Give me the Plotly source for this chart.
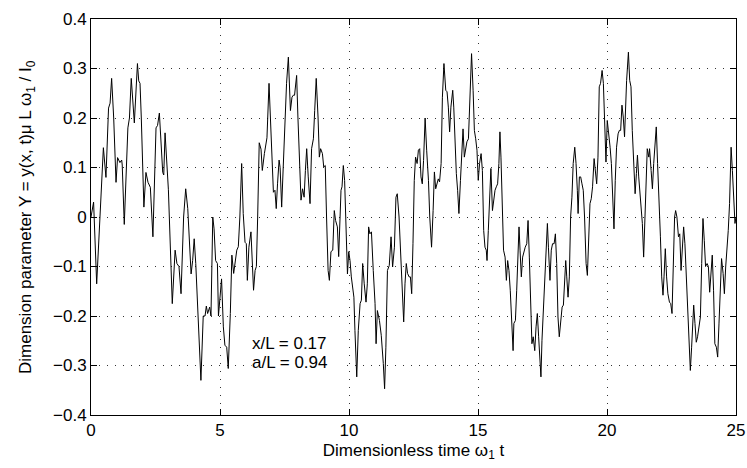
import plotly.graph_objects as go

# Dimensionless time samples and the response at x/L = 0.17, a/L = 0.94
t = [0.00, 0.10, 0.22, 0.35, 0.48, 0.58, 0.68, 0.74, 0.80, 0.88, 0.97, 1.03, 1.12, 1.19, 1.21, 1.29,
     1.43, 1.49, 1.56, 1.68, 1.80, 1.85, 1.90, 1.95, 2.05, 2.13, 2.21, 2.30, 2.40, 2.52, 2.58, 2.65,
     2.71, 2.78, 2.82, 2.87,
     3.00, 3.15, 3.26, 3.33, 3.41, 3.49, 3.59, 3.67, 3.75, 3.88, 3.94, 4.00, 4.06, 4.12, 4.20, 4.26,
     4.35, 4.42, 4.47, 4.52, 4.60, 4.65, 4.72, 4.77, 4.83, 4.90, 4.94, 5.00, 5.06, 5.13, 5.19, 5.26,
     5.32, 5.40, 5.46, 5.53, 5.58, 5.65, 5.71, 5.77, 5.84, 5.90, 5.97, 6.02, 6.06, 6.12, 6.20, 6.25,
     6.30, 6.36, 6.41, 6.46, 6.52, 6.59, 6.64, 6.72, 6.78, 6.82, 6.90, 6.98, 7.03, 7.07, 7.13, 7.18,
     7.23, 7.29,
     7.33, 7.39, 7.45, 7.52, 7.58, 7.65, 7.73, 7.79, 7.84, 7.89, 7.97, 8.02, 8.08, 8.14, 8.20, 8.26,
     8.31, 8.36, 8.42, 8.49, 8.55, 8.62, 8.67, 8.73, 8.80, 8.85, 8.90, 8.97, 9.02, 9.08, 9.13, 9.19,
     9.24, 9.30, 9.37, 9.43, 9.48, 9.55, 9.60, 9.65, 9.69, 9.73, 9.78, 9.83, 9.88, 9.94, 9.99, 10.04,
     10.09, 10.14, 10.19, 10.23, 10.30, 10.36, 10.43, 10.48, 10.53, 10.59, 10.66, 10.71, 10.76, 10.81,
     10.87, 10.94, 11.01, 11.05, 11.10, 11.18, 11.25, 11.33, 11.38, 11.43, 11.49, 11.56, 11.63, 11.69,
     11.76, 11.82, 11.87,
     11.94, 12.02, 12.07, 12.12, 12.17, 12.22, 12.27, 12.33, 12.38, 12.43, 12.48, 12.53, 12.58, 12.64,
     12.69, 12.74, 12.79, 12.84, 12.89, 12.95, 13.01, 13.08, 13.13, 13.18, 13.20, 13.26, 13.31, 13.36,
     13.41, 13.46, 13.51, 13.57, 13.62, 13.68, 13.75, 13.80, 13.85, 13.90, 13.95, 14.02, 14.06, 14.11,
     14.16, 14.21, 14.26, 14.32, 14.37, 14.42, 14.47, 14.52, 14.57, 14.63, 14.68, 14.75, 14.81, 14.86,
     14.91, 14.96, 15.01, 15.06, 15.12, 15.17, 15.22, 15.27, 15.32, 15.35, 15.40, 15.45, 15.50, 15.56,
     15.61, 15.66, 15.71, 15.76, 15.81, 15.85, 15.89, 15.94, 15.99, 16.05, 16.10, 16.15, 16.20, 16.25,
     16.30, 16.36,
     16.39, 16.45, 16.50, 16.55, 16.59, 16.63, 16.68, 16.73, 16.78, 16.83, 16.89, 16.94, 16.99, 17.04,
     17.09, 17.14, 17.20, 17.25, 17.30, 17.35, 17.40, 17.44, 17.48, 17.53, 17.58, 17.64, 17.69, 17.73,
     17.79, 17.84, 17.89, 17.95, 18.00, 18.05, 18.10, 18.15, 18.20, 18.26, 18.31, 18.36, 18.40, 18.44,
     18.49, 18.54, 18.59, 18.64, 18.69, 18.75, 18.80, 18.85, 18.88, 18.93, 18.98, 19.03, 19.08, 19.13,
     19.19, 19.24, 19.29, 19.34, 19.39, 19.44, 19.50, 19.55, 19.60, 19.65, 19.70, 19.75, 19.81, 19.86,
     19.91, 19.96, 20.01, 20.06, 20.12, 20.17, 20.22, 20.27, 20.32, 20.37, 20.43, 20.48, 20.53, 20.58,
     20.63, 20.68,
     20.76, 20.83, 20.88, 20.93, 20.98, 21.03, 21.09, 21.14, 21.18, 21.23, 21.28, 21.33, 21.37, 21.42,
     21.47, 21.52, 21.56, 21.62, 21.65, 21.71, 21.76, 21.81, 21.86, 21.91, 21.96, 22.02, 22.07, 22.12,
     22.17, 22.21, 22.26, 22.31, 22.36, 22.42, 22.47, 22.52, 22.57, 22.62, 22.66, 22.71, 22.77, 22.82,
     22.87, 22.92, 22.97, 23.02, 23.08, 23.13, 23.18, 23.23, 23.28, 23.33, 23.36, 23.41, 23.46, 23.51,
     23.57, 23.62, 23.67, 23.72, 23.77, 23.82, 23.88, 23.93, 23.98, 24.03, 24.08, 24.13, 24.18, 24.24,
     24.29, 24.34, 24.39, 24.44, 24.50, 24.55, 24.60, 24.65, 24.70, 24.75, 24.81, 24.86, 24.91, 24.96,
     25.00]

Y = [0.000, 0.030, -0.135, 0.000, 0.140, 0.080, 0.220, 0.230, 0.280, 0.200, 0.070, 0.120, 0.110, 0.115, 0.105, -0.015,
     0.180, 0.200, 0.280, 0.190, 0.310, 0.275, 0.270, 0.200, 0.020, 0.090, 0.070, 0.060, -0.040, 0.180, 0.185, 0.210,
     0.150, 0.090, 0.085, 0.170,
     0.055, -0.175, -0.067, -0.094, -0.100, -0.155, 0.000, 0.057, 0.017, -0.115, -0.088, -0.044, -0.094, -0.168, -0.240, -0.330,
     -0.200, -0.200, -0.180, -0.195, -0.182, -0.200, 0.000, -0.024, -0.088, -0.094, -0.200, -0.165, -0.125, -0.222, -0.259, -0.263,
     -0.306, -0.195, -0.077, -0.114, -0.094, -0.067, -0.060, 0.000, 0.108, 0.007, -0.051, -0.054, -0.128, -0.061, -0.030, -0.094,
     -0.148, -0.108, -0.100, 0.000, 0.150, 0.137, 0.094, 0.128, 0.155, 0.160, 0.270, 0.162, 0.108, 0.050, 0.054, 0.017,
     0.067, 0.115,
     0.100, 0.020, 0.100, 0.210, 0.270, 0.323, 0.215, 0.242, 0.246, 0.246, 0.286, 0.202, 0.108, 0.034, 0.057, 0.040,
     0.094, 0.138, 0.081, 0.027, 0.138, 0.158, 0.215, 0.280, 0.202, 0.121, 0.138, 0.128, 0.101, 0.104, 0.000, -0.108,
     -0.128, -0.070, -0.067, 0.013, -0.007, -0.020, -0.080, -0.013, 0.054, 0.061, 0.104, 0.074, -0.013, -0.115, -0.070, -0.088,
     -0.121, -0.141, -0.162, -0.229, -0.323, -0.229, -0.175, -0.168, -0.094, -0.135, -0.172, -0.135, -0.020, -0.034,
     -0.030, -0.108, -0.175, -0.256, -0.189, -0.209, -0.239, -0.296, -0.347, -0.263, -0.108, -0.098, -0.040, -0.101,
     -0.061, 0.040, 0.047,
     0.000, -0.094, -0.162, -0.212, -0.135, -0.094, -0.114, -0.121, -0.121, -0.155, -0.054, 0.074, 0.121, 0.108,
     0.135, 0.138, 0.081, 0.067, 0.114, 0.200, 0.135, 0.074, 0.000, -0.040, -0.061, 0.013, 0.091, 0.057,
     0.067, 0.077, 0.071, 0.108, 0.242, 0.310, 0.256, 0.253, 0.222, 0.172, 0.222, 0.256, 0.222, 0.135,
     0.088, 0.054, 0.007, 0.074, 0.141, 0.178, 0.121, 0.135, 0.152, 0.158, 0.242, 0.330, 0.256, 0.175,
     0.158, 0.135, 0.074, 0.108, 0.128, 0.094, -0.027, -0.061, -0.067, -0.088, -0.027, 0.040, 0.098, 0.013,
     0.040, 0.054, 0.061, 0.067, 0.108, 0.172, 0.121, 0.040, -0.067, -0.081, -0.128, -0.088, -0.108, -0.148,
     -0.209, -0.270,
     -0.215, -0.209, -0.148, -0.054, -0.020, -0.067, -0.121, -0.081, -0.067, -0.061, -0.054, -0.007, -0.081, -0.182,
     -0.256, -0.242, -0.270, -0.222, -0.195, -0.242, -0.303, -0.323, -0.249, -0.195, -0.135, -0.054, -0.013, -0.061,
     -0.128, -0.067, -0.054, -0.054, -0.034, -0.094, -0.202, -0.242, -0.215, -0.182, -0.178, -0.121, -0.088, -0.121,
     -0.162, -0.121, 0.000, 0.040, 0.108, 0.141, 0.108, 0.054, 0.007, 0.081, 0.081, 0.067, 0.054, 0.000,
     -0.094, -0.118, -0.054, 0.027, 0.037, 0.061, 0.118, 0.094, 0.067, 0.121, 0.263, 0.270, 0.296, 0.270,
     0.189, 0.111, 0.195, 0.175, 0.141, 0.108, 0.040, -0.024, 0.074, 0.141, 0.168, 0.175, 0.175, 0.226,
     0.202, 0.162,
     0.276, 0.333, 0.276, 0.263, 0.175, 0.108, 0.047, 0.088, 0.125, 0.081, 0.040, 0.013, -0.013, -0.081,
     0.000, 0.081, 0.138, 0.121, 0.138, 0.094, 0.057, 0.108, 0.155, 0.182, 0.108, 0.040, -0.040, -0.121,
     -0.158, -0.121, -0.064, -0.121, -0.155, -0.172, -0.175, -0.195, -0.094, 0.000, 0.013, 0.000, -0.040, -0.034,
     -0.108, -0.047, -0.020, -0.054, -0.121, -0.202, -0.263, -0.310, -0.263, -0.202, -0.178, -0.215, -0.253, -0.242,
     -0.215, -0.202, -0.094, -0.003, -0.047, -0.100, -0.094, -0.100, -0.152, -0.108, -0.077, -0.148, -0.256, -0.263,
     -0.283, -0.216, -0.148, -0.084, -0.114, -0.155, -0.101, -0.067, -0.027, 0.027, 0.141, 0.094, 0.027, -0.013,
     0.000]

x_ticks = [0, 5, 10, 15, 20, 25]
y_ticks = [-0.4, -0.3, -0.2, -0.1, 0, 0.1, 0.2, 0.3, 0.4]
y_tick_text = ["\u22120.4", "\u22120.3", "\u22120.2", "\u22120.1", "0", "0.1", "0.2", "0.3", "0.4"]

x_title = "Dimensionless time \u03c9<sub>1</sub> t"
y_title = "Dimension parameter Y = y(x, t)\u03bc L \u03c9<sub>1</sub> / I<sub>0</sub>"

# Parameter labels written inside the axes
param_lines = ["x/L = 0.17", "a/L = 0.94"]
param_x = 6.36
param_y = [-0.255, -0.2935]

FONT = "Liberation Sans, Arial, Helvetica, sans-serif"
FS = 17

fig = go.Figure()
fig.add_trace(go.Scatter(x=t, y=Y, mode="lines",
                         line=dict(color="black", width=1), showlegend=False))

for txt, yy in zip(param_lines, param_y):
    fig.add_annotation(x=param_x, y=yy, xref="x", yref="y",
                       text=txt, showarrow=False,
                       xanchor="left", yanchor="middle", align="left",
                       width=92, height=20, xshift=-4,
                       bgcolor="white", borderpad=0,
                       font=dict(family=FONT, size=FS, color="black"))

# Vertical axis title, placed beside the tick labels
fig.add_annotation(x=0, y=0.5, xref="paper", yref="paper",
                   text=y_title, showarrow=False, textangle=-90,
                   xanchor="center", yanchor="middle", xshift=-64,
                   font=dict(family=FONT, size=FS, color="black"))

axis_common = dict(
    showline=True, linecolor="black", linewidth=1, mirror="allticks",
    ticks="inside", ticklen=6, tickcolor="black", tickwidth=1,
    showgrid=True, gridcolor="#333333", gridwidth=1, griddash="1px,7px",
    zeroline=False,
    tickfont=dict(family=FONT, size=FS, color="black"),
)

fig.update_xaxes(range=[0, 25], tickvals=x_ticks,
                 title=dict(text=x_title,
                            font=dict(family=FONT, size=FS, color="black"), standoff=4),
                 **axis_common)
fig.update_yaxes(range=[-0.4, 0.4], tickvals=y_ticks, ticktext=y_tick_text,
                 **axis_common)

fig.update_layout(
    width=747, height=468,
    margin=dict(l=91, r=11, t=19, b=53, autoexpand=False),
    paper_bgcolor="white", plot_bgcolor="white",
)

fig.write_html("out.html")
